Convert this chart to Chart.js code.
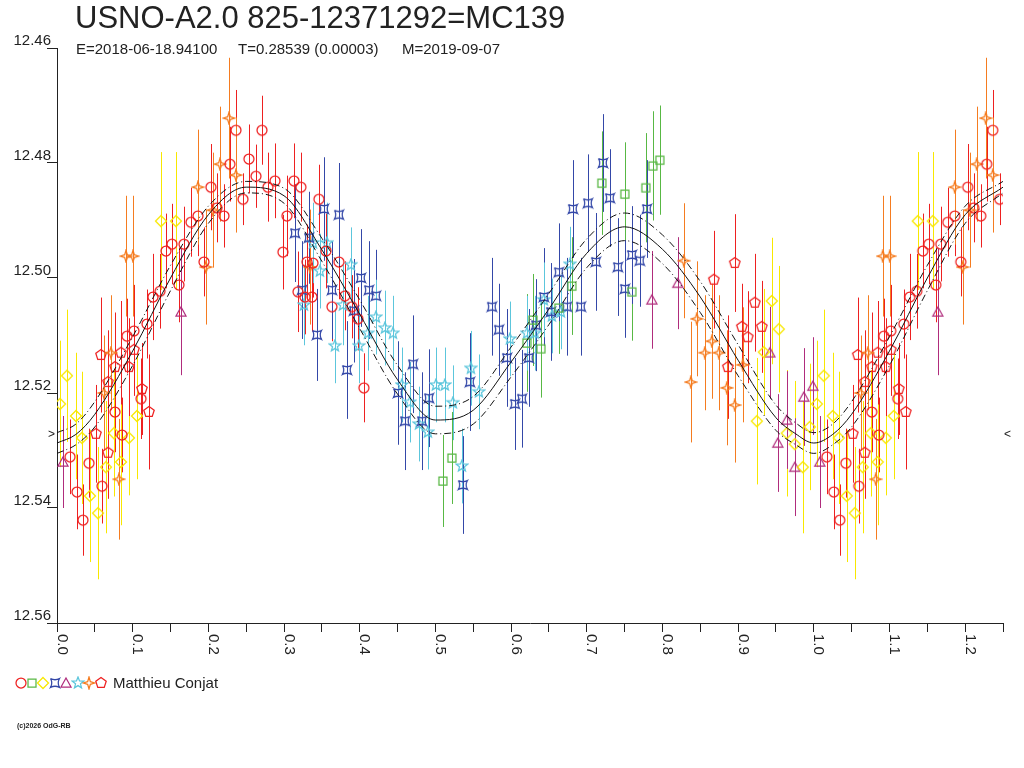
<!DOCTYPE html>
<html>
<head>
<meta charset="utf-8">
<title>USNO-A2.0 825-12371292=MC139</title>
<script src="https://cdn.jsdelivr.net/npm/chart.js@4.4.1/dist/chart.umd.min.js"></script>
<style>
    html, body { margin: 0; padding: 0; background: #fff; }
    canvas { display: block; }
</style>
</head>
<body>
<canvas id="chart" width="1024" height="768"></canvas>
<script>
// Texts
const titleText = 'USNO-A2.0 825-12371292=MC139';
const subtitleParts = ['E=2018-06-18.94100', 'T=0.28539 (0.00003)', 'M=2019-09-07'];
const observerName = 'Matthieu Conjat';
const copyrightText = '(c)2026 OdG-RB';

// X tick labels (phase), drawn rotated
const xTickValues = [0, 0.1, 0.2, 0.3, 0.4, 0.5, 0.6, 0.7, 0.8, 0.9, 1.0, 1.1, 1.2];
const xTickLabels = ['0.0', '0.1', '0.2', '0.3', '0.4', '0.5', '0.6', '0.7', '0.8', '0.9', '1.0', '1.1', '1.2'];

// Level of the > < marks on both sides
const markMag = 12.5273;

// Fitted light curve and its envelope (read at these phases)
const curvePhase = [0, 0.025, 0.05, 0.1, 0.15, 0.2, 0.25, 0.3, 0.35, 0.4, 0.45, 0.5,
    0.55, 0.6, 0.65, 0.7, 0.75, 0.8, 0.85, 0.9, 0.95, 0.975, 1.0];
const curveMag = [12.5287, 12.5272, 12.5237, 12.5127, 12.5000, 12.4890, 12.4842, 12.4857,
    12.4951, 12.5063, 12.5177, 12.5247, 12.5230, 12.5146, 12.5054, 12.4957, 12.4911,
    12.4950, 12.5033, 12.5143, 12.5243, 12.5270, 12.5287];
const envBright = [12.5269, 12.5254, 12.5215, 12.5102, 12.4978, 12.4875, 12.4832, 12.4844,
    12.4931, 12.5038, 12.5152, 12.5223, 12.5206, 12.5120, 12.5027, 12.4932, 12.4887,
    12.4925, 12.5006, 12.5116, 12.5221, 12.5251, 12.5269];
const envFaint = [12.5305, 12.5290, 12.5259, 12.5152, 12.5022, 12.4905, 12.4852, 12.4870,
    12.4971, 12.5088, 12.5202, 12.5271, 12.5254, 12.5172, 12.5081, 12.4982, 12.4935,
    12.4975, 12.5060, 12.5170, 12.5265, 12.5289, 12.5305];

// Series 1: red circles
const circPhase = [0.0172, 0.0264, 0.0343, 0.0423, 0.0594, 0.0766, 0.0859, 0.0925, 0.1017, 0.1110,
    0.1189, 0.1268, 0.1361, 0.1440, 0.1519, 0.1612, 0.1678, 0.1770, 0.1863, 0.1942,
    0.2034, 0.2114, 0.2206, 0.2285, 0.2365, 0.2457, 0.2536, 0.2629, 0.2708, 0.2787,
    0.2880, 0.2985, 0.3038, 0.3131, 0.3223, 0.3303, 0.3382, 0.3184, 0.3276, 0.3369,
    0.3461, 0.3554, 0.3633, 0.3725, 0.3804, 0.3897, 0.3976, 0.4055];
const circMag = [12.5311, 12.5372, 12.5421, 12.5322, 12.5362, 12.5233, 12.5273, 12.5101, 12.5092, 12.5210,
    12.5080, 12.5033, 12.5023, 12.4953, 12.4941, 12.5012, 12.4941, 12.4903, 12.4892, 12.4972,
    12.4842, 12.4878, 12.4892, 12.4802, 12.4743, 12.4863, 12.4793, 12.4823, 12.4743, 12.4842,
    12.4831, 12.4955, 12.4892, 12.4831, 12.4842, 12.4972, 12.4974, 12.5024, 12.5033, 12.5033,
    12.4863, 12.4953, 12.5050, 12.4972, 12.5031, 12.5050, 12.5071, 12.5191];
const circErr = [0.0065, 0.0065, 0.0062, 0.0060, 0.0065, 0.0070, 0.0065, 0.0065, 0.0080, 0.0070,
    0.0060, 0.0075, 0.0065, 0.0065, 0.0070, 0.0065, 0.0065, 0.0060, 0.0070, 0.0060,
    0.0075, 0.0060, 0.0055, 0.0065, 0.0070, 0.0045, 0.0060, 0.0055, 0.0060, 0.0060,
    0.0065, 0.0065, 0.0070, 0.0065, 0.0060, 0.0065, 0.0060, 0.0070, 0.0065, 0.0060,
    0.0060, 0.0065, 0.0060, 0.0065, 0.0060, 0.0055, 0.0055, 0.0060];

// Series 2: green squares
const squPhase = [0.5099, 0.5218, 0.6209, 0.6288, 0.6394, 0.6631, 0.6803, 0.7199, 0.7503, 0.7596,
    0.7781, 0.7873, 0.7966];
const squMag = [12.5353, 12.5313, 12.5113, 12.5073, 12.5123, 12.5052, 12.5014, 12.4835, 12.4854, 12.5024,
    12.4843, 12.4805, 12.4795];
const squErr = [0.0080, 0.0080, 0.0085, 0.0080, 0.0085, 0.0080, 0.0085, 0.0090, 0.0090, 0.0085,
    0.0095, 0.0095, 0.0095];

// Series 3: yellow diamonds
const diaPhase = [0.0040, 0.0132, 0.0251, 0.0330, 0.0436, 0.0542, 0.0647, 0.0753, 0.0845, 0.0951,
    0.1057, 0.1374, 0.1572, 0.9247, 0.9340, 0.9445, 0.9538, 0.9643, 0.9749, 0.9855, 0.9947];
const diaMag = [12.5219, 12.5170, 12.5240, 12.5278, 12.5379, 12.5409, 12.5329, 12.5270, 12.5320, 12.5278,
    12.5240, 12.4901, 12.4901, 12.5249, 12.5129, 12.5040, 12.5089, 12.5270, 12.5289, 12.5329, 12.5259];
const diaErr = [0.0110, 0.0115, 0.0110, 0.0115, 0.0115, 0.0115, 0.0115, 0.0110, 0.0110, 0.0100,
    0.0110, 0.0120, 0.0120, 0.0110, 0.0110, 0.0110, 0.0110, 0.0110, 0.0110, 0.0115, 0.0110];

// Series 4: blue bowties
const bowPhase = [0.3144, 0.3236, 0.3329, 0.3435, 0.3527, 0.3633, 0.3725, 0.3831, 0.3923, 0.4016,
    0.4121, 0.4214, 0.4505, 0.4597, 0.4703, 0.4822, 0.4914, 0.5363, 0.5456, 0.5746,
    0.5839, 0.5945, 0.6050, 0.6143, 0.6235, 0.6328, 0.6433, 0.6526, 0.6631, 0.6737,
    0.6816, 0.6922, 0.7015, 0.7120, 0.7213, 0.7305, 0.7411, 0.7503, 0.7596, 0.7701, 0.7794];
const bowMag = [12.4922, 12.5021, 12.4930, 12.5099, 12.4880, 12.5021, 12.4890, 12.5160, 12.5057, 12.5000,
    12.5021, 12.5031, 12.5200, 12.5249, 12.5150, 12.5249, 12.5209, 12.5360, 12.5181, 12.5050,
    12.5090, 12.5139, 12.5219, 12.5210, 12.5139, 12.5082, 12.5033, 12.5059, 12.4990, 12.5050,
    12.4880, 12.5050, 12.4870, 12.4972, 12.4800, 12.4861, 12.4981, 12.5019, 12.4960, 12.4970, 12.4880];
const bowErr = [0.0085, 0.0085, 0.0080, 0.0080, 0.0090, 0.0085, 0.0090, 0.0085, 0.0090, 0.0085,
    0.0085, 0.0080, 0.0090, 0.0085, 0.0085, 0.0085, 0.0085, 0.0085, 0.0085, 0.0085,
    0.0080, 0.0085, 0.0080, 0.0085, 0.0085, 0.0080, 0.0085, 0.0085, 0.0085, 0.0085,
    0.0085, 0.0085, 0.0085, 0.0085, 0.0085, 0.0085, 0.0085, 0.0085, 0.0085, 0.0080, 0.0085];

// Series 5: purple triangles
const triPhase = [0.0079, 0.1638, 0.7860, 0.8203, 0.9419, 0.9524, 0.9643, 0.9749, 0.9868, 0.9987];
const triMag = [12.5320, 12.5059, 12.5038, 12.5009, 12.5130, 12.5287, 12.5247, 12.5329, 12.5207, 12.5188];
const triErr = [0.0080, 0.0110, 0.0085, 0.0080, 0.0080, 0.0085, 0.0085, 0.0085, 0.0085, 0.0085];

// Series 6: cyan stars
const starPhase = [0.3263, 0.3382, 0.3474, 0.3567, 0.3672, 0.3778, 0.3884, 0.3989, 0.4108, 0.4214,
    0.4333, 0.4439, 0.4557, 0.4663, 0.4782, 0.4901, 0.5007, 0.5125, 0.5231, 0.5350,
    0.5469, 0.5575, 0.5984, 0.6209, 0.6314, 0.6433, 0.6539, 0.6658, 0.6777];
const starMag = [12.5047, 12.4939, 12.4988, 12.4939, 12.5118, 12.5047, 12.4977, 12.5118, 12.5096, 12.5068,
    12.5087, 12.5096, 12.5186, 12.5216, 12.5254, 12.5268, 12.5186, 12.5186, 12.5217, 12.5327,
    12.5157, 12.5198, 12.5106, 12.5096, 12.5096, 12.5038, 12.5066, 12.5059, 12.4976];
const starErr = [0.0070, 0.0070, 0.0065, 0.0070, 0.0065, 0.0070, 0.0065, 0.0065, 0.0065, 0.0065,
    0.0065, 0.0065, 0.0065, 0.0070, 0.0065, 0.0065, 0.0065, 0.0065, 0.0065, 0.0065,
    0.0065, 0.0065, 0.0065, 0.0065, 0.0065, 0.0065, 0.0065, 0.0065, 0.0065];

// Series 7: orange four-point stars
const sparkPhase = [0.0621, 0.0713, 0.0819, 0.0911, 0.1004, 0.1863, 0.1968, 0.2061, 0.2153, 0.2272,
    0.2365, 0.3342, 0.8283, 0.8375, 0.8454, 0.8560, 0.8653, 0.8745, 0.8851, 0.8956, 0.9062];
const sparkMag = [12.5200, 12.5130, 12.5350, 12.4962, 12.4962, 12.4842, 12.4981, 12.4882, 12.4802, 12.4722,
    12.4821, 12.4981, 12.4970, 12.5181, 12.5071, 12.5130, 12.5110, 12.5130, 12.5191, 12.5221, 12.5151];
const sparkErr = [0.0100, 0.0100, 0.0105, 0.0105, 0.0105, 0.0100, 0.0100, 0.0100, 0.0100, 0.0105,
    0.0100, 0.0100, 0.0100, 0.0105, 0.0100, 0.0100, 0.0100, 0.0100, 0.0100, 0.0100, 0.0100];

// Series 8: red pentagons
const pentPhase = [0.0515, 0.0581, 0.0674, 0.0674, 0.0766, 0.0845, 0.0951, 0.1017, 0.1123, 0.1215,
    0.8679, 0.8864, 0.8956, 0.9049, 0.9128, 0.9221, 0.9313];
const pentMag = [12.5271, 12.5134, 12.5181, 12.5304, 12.5155, 12.5130, 12.5155, 12.5125, 12.5193, 12.5233,
    12.5003, 12.5155, 12.4974, 12.5085, 12.5103, 12.5043, 12.5085];
const pentErr = [0.0085, 0.0100, 0.0090, 0.0080, 0.0095, 0.0090, 0.0085, 0.0080, 0.0080, 0.0100,
    0.0085, 0.0090, 0.0085, 0.0075, 0.0080, 0.0085, 0.0080];

const FONT = '"Liberation Sans", Arial, sans-serif';
const INK = '#222';

/**
 * Build the points of a phased series; phases below 0.25 are
 * repeated one cycle later, as in the original plot.
 */
function phased(phases, mags, errs) {
    'use strict';
    const pts = [];
    for (let i = 0; i < phases.length; ++i) {
        pts.push({x: phases[i], y: mags[i], e: errs ? errs[i] : 0});
    }
    for (let i = 0; i < phases.length; ++i) {
        if (phases[i] <= 0.25)
            pts.push({x: phases[i] + 1, y: mags[i], e: errs ? errs[i] : 0});
    }
    pts.sort((a, b) => a.x - b.x);
    return pts;
}

/**
 * Small hollow marker drawn on its own canvas, used as pointStyle
 */
function makeMarker(shape, color) {
    'use strict';
    const c = document.createElement('canvas');
    c.width = 14;
    c.height = 14;
    const g = c.getContext('2d');
    g.strokeStyle = color;
    g.lineWidth = 1.25;
    g.beginPath();
    const poly = (n, r, rot, inner) => {
        const k = inner ? n * 2 : n;
        for (let i = 0; i < k; ++i) {
            const rr = inner && i % 2 ? inner : r;
            const a = rot + i * Math.PI * 2 / k;
            const px = 7 + rr * Math.cos(a);
            const py = 7 + rr * Math.sin(a);
            if (i == 0) g.moveTo(px, py); else g.lineTo(px, py);
        }
        g.closePath();
    };
    switch (shape) {
    case 'circle':
        g.arc(7, 7, 5, 0, Math.PI * 2);
        break;
    case 'square':
        g.rect(3, 3, 8, 8);
        break;
    case 'diamond':
        g.moveTo(7, 1.5); g.lineTo(12.5, 7); g.lineTo(7, 12.5); g.lineTo(1.5, 7);
        g.closePath();
        break;
    case 'bowtie':
        g.moveTo(2.5, 2.5);
        g.quadraticCurveTo(7, 5, 11.5, 2.5);
        g.quadraticCurveTo(9, 7, 11.5, 11.5);
        g.quadraticCurveTo(7, 9, 2.5, 11.5);
        g.quadraticCurveTo(5, 7, 2.5, 2.5);
        break;
    case 'triangle':
        g.moveTo(7, 2); g.lineTo(12, 11); g.lineTo(2, 11);
        g.closePath();
        break;
    case 'star':
        poly(5, 6, -Math.PI / 2, 2.6);
        break;
    case 'spark':
        poly(4, 6, 0, 1.9);
        break;
    case 'pentagon':
        poly(5, 5.5, -Math.PI / 2);
        break;
    }
    g.stroke();
    return c;
}

const series = [
    {phase: circPhase, mag: circMag, err: circErr, shape: 'circle', color: '#ee2020'},
    {phase: squPhase, mag: squMag, err: squErr, shape: 'square', color: '#58b844'},
    {phase: diaPhase, mag: diaMag, err: diaErr, shape: 'diamond', color: '#f8e800'},
    {phase: bowPhase, mag: bowMag, err: bowErr, shape: 'bowtie', color: '#3448a8'},
    {phase: triPhase, mag: triMag, err: triErr, shape: 'triangle', color: '#b02c7c'},
    {phase: starPhase, mag: starMag, err: starErr, shape: 'star', color: '#5cc6dc'},
    {phase: sparkPhase, mag: sparkMag, err: sparkErr, shape: 'spark', color: '#f57c20'},
    {phase: pentPhase, mag: pentMag, err: pentErr, shape: 'pentagon', color: '#ee2020'},
];
for (const s of series)
    s.marker = makeMarker(s.shape, s.color);

const pluginErrorBars = {
    id: 'errorBars',
    beforeDatasetsDraw: function(chart) {
        'use strict';
        const {ctx, chartArea, scales} = chart;
        ctx.save();
        ctx.beginPath();
        ctx.rect(chartArea.left, chartArea.top, chartArea.width, chartArea.height);
        ctx.clip();
        ctx.lineWidth = 1;
        for (const ds of chart.data.datasets) {
            if (!ds.errorColor)
                continue;
            ctx.strokeStyle = ds.errorColor;
            ctx.beginPath();
            for (const p of ds.data) {
                const px = Math.round(scales.x.getPixelForValue(p.x)) + 0.5;
                ctx.moveTo(px, scales.y.getPixelForValue(p.y - p.e));
                ctx.lineTo(px, scales.y.getPixelForValue(p.y + p.e));
            }
            ctx.stroke();
        }
        ctx.restore();
    },
};

const pluginDecor = {
    id: 'decor',
    afterDraw: function(chart) {
        'use strict';
        const {ctx, scales} = chart;
        ctx.save();
        ctx.fillStyle = INK;

        // Title and subtitle
        ctx.textAlign = 'left';
        ctx.textBaseline = 'alphabetic';
        ctx.font = '31px ' + FONT;
        ctx.fillText(titleText, 75, 28);
        ctx.font = '15px ' + FONT;
        const subX = [76, 238, 402];
        subtitleParts.forEach((t, i) => ctx.fillText(t, subX[i], 54));

        // Rotated phase labels
        ctx.font = '15px ' + FONT;
        xTickValues.forEach((v, i) => {
            const px = scales.x.getPixelForValue(v);
            ctx.save();
            ctx.translate(px + 0.5, scales.y.bottom + 11);
            ctx.rotate(Math.PI / 2);
            ctx.textAlign = 'left';
            ctx.textBaseline = 'alphabetic';
            ctx.fillText(xTickLabels[i], 0, 0);
            ctx.restore();
        });

        // > and < marks
        const my = scales.y.getPixelForValue(markMag);
        ctx.font = '12px ' + FONT;
        ctx.textBaseline = 'middle';
        ctx.textAlign = 'right';
        ctx.fillText('>', scales.x.left - 2, my);
        ctx.textAlign = 'left';
        ctx.fillText('<', scales.x.right + 1, my);

        // Legend
        const legendX = [21, 32, 43, 55, 66, 78, 89, 101];
        series.forEach((s, i) => {
            ctx.drawImage(s.marker, legendX[i] - 7, 683 - 7);
        });
        ctx.font = '15px ' + FONT;
        ctx.textBaseline = 'middle';
        ctx.fillText(observerName, 113, 684);

        ctx.font = 'bold 7px ' + FONT;
        ctx.fillText(copyrightText, 17, 726);
        ctx.restore();
    },
};

const curveLine = (mags, dash) => ({
    type: 'line',
    data: phased(curvePhase, mags),
    borderColor: '#111',
    borderWidth: 1,
    borderDash: dash,
    pointRadius: 0,
    showLine: true,
    fill: false,
    cubicInterpolationMode: 'monotone',
});

const datasets = [
    curveLine(curveMag, []),
    curveLine(envBright, [7, 3, 1, 3]),
    curveLine(envFaint, [7, 3, 1, 3]),
];
for (const s of series) {
    datasets.push({
        data: phased(s.phase, s.mag, s.err),
        pointStyle: s.marker,
        pointRadius: 5,
        hoverRadius: 5,
        showLine: false,
        errorColor: s.color,
    });
}

new Chart(document.getElementById('chart'), {
    type: 'scatter',
    data: {datasets: datasets},
    options: {
        responsive: false,
        animation: false,
        events: [],
        layout: {padding: {top: 48, right: 21, left: 0, bottom: 0}},
        plugins: {
            legend: {display: false},
            tooltip: {enabled: false},
        },
        scales: {
            x: {
                type: 'linear',
                min: 0,
                max: 1.25,
                border: {color: INK},
                grid: {drawOnChartArea: false, tickLength: 9, color: INK},
                ticks: {display: false, stepSize: 0.05},
                afterFit: function(scale) { scale.height = 145; },
            },
            y: {
                type: 'linear',
                reverse: true,
                min: 12.46,
                max: 12.56,
                border: {color: INK},
                grid: {drawOnChartArea: false, tickLength: 10, color: INK},
                ticks: {
                    stepSize: 0.02,
                    color: INK,
                    padding: -4,
                    labelOffset: -7,
                    font: {size: 15, family: FONT},
                    callback: (v) => v.toFixed(2),
                },
                afterFit: function(scale) { scale.width = 57; },
            },
        },
    },
    plugins: [pluginErrorBars, pluginDecor],
});
</script>
</body>
</html>
